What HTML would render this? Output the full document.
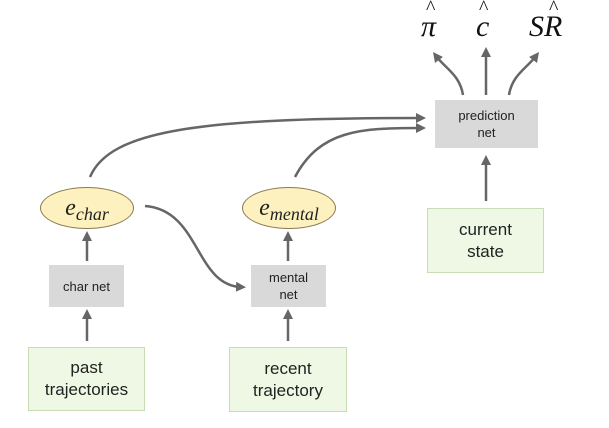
<!DOCTYPE html><html><head><style>
body{margin:0;background:#fff;width:609px;height:428px;overflow:hidden;font-family:"Liberation Sans",sans-serif}
.b{position:absolute;display:flex;align-items:center;justify-content:center;text-align:center;color:#222}
.g{background:#d9d9d9;font-size:13px;line-height:17px}
.gr{background:#eef8e4;border:1px solid #c9dcb8;font-size:17px;line-height:22px;box-sizing:border-box}
.e{background:#fdf1bf;border:1px solid #8a7a50;border-radius:50%;box-sizing:border-box;font-family:"Liberation Serif",serif;font-style:italic;font-size:24px}
.e span{font-size:18px;position:relative;top:5px}
.m{position:absolute;font-family:"Liberation Serif",serif;font-style:italic;font-size:30px;color:#111}
.h{position:absolute;font-family:"Liberation Serif",serif;font-size:20px;color:#111}
</style></head><body>
<svg width="609" height="428" style="position:absolute;left:0;top:0">
<defs><marker id="a" markerWidth="4" markerHeight="4" refX="2" refY="2" orient="auto"><path d="M0,0L4,2L0,4z" fill="#666"/></marker></defs>
<g stroke="#666" stroke-width="2.5" fill="none" marker-end="url(#a)">
<path d="M87,261V236"/><path d="M87,341V314"/>
<path d="M288,261V236"/><path d="M288,341V314"/>
<path d="M486,201V160"/>
<path d="M486,95V52"/>
<path d="M463,95C460,75 445,68 436,56"/>
<path d="M509,95C512,75 527,68 536,56"/>
<path d="M145,206C200,210 195,285 241,287"/>
<path d="M90,177C110,130 200,118 421,118"/>
<path d="M295,177C320,130 360,128 421,128"/>
</g></svg>
<div class="m" style="left:421px;top:10px">π</div><div class="h" style="left:426px;top:-3px">^</div>
<div class="m" style="left:476px;top:10px">c</div><div class="h" style="left:479px;top:-3px">^</div>
<div class="m" style="left:529px;top:10px">SR</div><div class="h" style="left:549px;top:-3px">^</div>
<div class="b g" style="left:435px;top:100px;width:103px;height:48px">prediction<br>net</div>
<div class="b gr" style="left:427px;top:208px;width:117px;height:65px">current<br>state</div>
<div class="b e" style="left:40px;top:187px;width:94px;height:42px"><div>e<span>char</span></div></div>
<div class="b e" style="left:242px;top:187px;width:94px;height:42px"><div>e<span>mental</span></div></div>
<div class="b g" style="left:49px;top:265px;width:75px;height:42px">char net</div>
<div class="b g" style="left:251px;top:265px;width:75px;height:42px">mental<br>net</div>
<div class="b gr" style="left:28px;top:347px;width:117px;height:64px">past<br>trajectories</div>
<div class="b gr" style="left:229px;top:347px;width:118px;height:65px">recent<br>trajectory</div>
</body></html>
